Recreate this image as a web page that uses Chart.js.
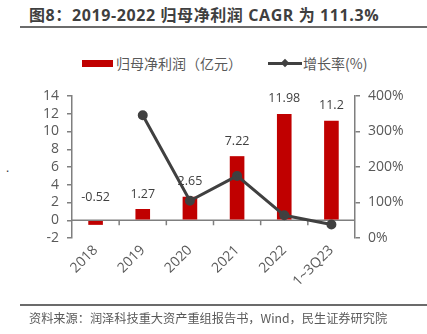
<!DOCTYPE html>
<html>
<head>
<meta charset="utf-8">
<script src="https://cdn.jsdelivr.net/npm/chart.js@4/dist/chart.umd.min.js"></script>
<style>
  html, body { margin: 0; padding: 0; background: #fff; }
  body { width: 427px; height: 334px; position: relative; overflow: hidden; font-family: "Open Sans", "Noto Sans CJK SC", sans-serif; }
  .title { position: absolute; left: 29px; top: 4px; font-size: 16px; letter-spacing: 0.6px; font-weight: bold; color: #3f3f3f; line-height: 22px; white-space: nowrap; font-family: "Open Sans", "Noto Sans CJK SC", sans-serif; }
  .rule { position: absolute; left: 20px; width: 407px; height: 2px; background: #6b6b6b; }
  .legend { position: absolute; top: 53px; left: 0; height: 20px; font-size: 14px; color: #595959; font-family: "Noto Sans CJK SC", sans-serif; }
  .legend span { position: absolute; top: 0; line-height: 20px; white-space: nowrap; }
  .box { position: absolute; left: 82px; top: 7px; width: 31px; height: 7px; background: #C00000; }
  .lline { position: absolute; left: 268px; top: 9px; width: 34px; height: 3px; background: #404040; }
  .ldot { position: absolute; left: 282px; top: 7px; width: 6px; height: 6px; background: #404040; transform: rotate(45deg); }
  .source { position: absolute; left: 29px; top: 309px; font-size: 12.2px; color: #595959; white-space: nowrap; font-family: "Noto Sans CJK SC", sans-serif; }
  .dot { position: absolute; left: 6px; top: 159px; font-size: 12px; color: #333; }
  #wrap { position: absolute; left: 0; top: 70px; width: 427px; height: 235px; }
</style>
</head>
<body>
<div class="title">图8：2019-2022 归母净利润 CAGR 为 111.3%</div>
<div class="rule" style="top:26px"></div>
<div class="legend">
  <div class="box"></div>
  <span style="left:116px">归母净利润（亿元）</span>
  <div class="lline"></div>
  <div class="ldot"></div>
  <span style="left:303px">增长率(%)</span>
</div>
<div class="dot">.</div>
<div id="wrap"><canvas id="chart"></canvas></div>
<div class="rule" style="top:304px"></div>
<div class="source">资料来源：润泽科技重大资产重组报告书，Wind，民生证券研究院</div>

<script>
const years = ['2018', '2019', '2020', '2021', '2022', '1~3Q23']
const profit = [-0.52, 1.27, 2.65, 7.22, 11.98, 11.2]
const profitLabels = ['-0.52', '1.27', '2.65', '7.22', '11.98', '11.2']
const growth = [null, 346, 105, 175, 64, 38]

const axisColor = '#7f7f7f'
const tickColor = '#595959'

// zero line + little tick marks between categories, like the original
const zeroLine = {
  id: 'zeroLine',
  beforeDatasetsDraw(chart) {
    const { ctx, chartArea, scales } = chart
    const y0 = scales.y.getPixelForValue(0)
    const x = scales.x
    ctx.save()
    ctx.strokeStyle = axisColor
    ctx.lineWidth = 1.5
    ctx.beginPath()
    ctx.moveTo(chartArea.left, y0)
    ctx.lineTo(chartArea.right, y0)
    for (let i = 1; i < years.length; i++) {
      const bx = (x.getPixelForValue(i - 1) + x.getPixelForValue(i)) / 2
      ctx.moveTo(bx, y0)
      ctx.lineTo(bx, y0 + 5)
    }
    ctx.stroke()
    ctx.restore()
  }
}

// value labels over the bars, drawn before the line so the line sits on top
const barLabels = {
  id: 'barLabels',
  afterDatasetDraw(chart, args) {
    if (args.index !== 0) return
    const { ctx, scales } = chart
    ctx.save()
    ctx.font = '12.5px "Open Sans"'
    ctx.fillStyle = '#404040'
    ctx.textAlign = 'center'
    ctx.textBaseline = 'middle'
    profit.forEach((v, i) => {
      const x = scales.x.getPixelForValue(i)
      let y = scales.y.getPixelForValue(Math.max(v, 0)) - 15
      if (v < 0) y -= 8
      ctx.fillText(profitLabels[i], x, y)
    })
    ctx.restore()
  }
}

new Chart(document.getElementById('chart'), {
  data: {
    labels: years,
    datasets: [
      {
        type: 'bar',
        label: '归母净利润（亿元）',
        data: profit,
        backgroundColor: '#C00000',
        barPercentage: 0.31,
        categoryPercentage: 1,
        yAxisID: 'y',
        order: 1
      },
      {
        type: 'line',
        label: '增长率(%)',
        data: growth,
        borderColor: '#404040',
        backgroundColor: '#404040',
        borderWidth: 3,
        pointRadius: 3.5,
        pointHoverRadius: 3.5,
        tension: 0,
        yAxisID: 'y1',
        order: 0
      }
    ]
  },
  plugins: [zeroLine, barLabels],
  options: {
    responsive: true,
    maintainAspectRatio: false,
    animation: false,
    layout: { padding: { top: 26, left: 0, right: 0, bottom: 0 } },
    plugins: { legend: { display: false }, tooltip: { enabled: false } },
    scales: {
      x: {
        offset: true,
        grid: { display: false },
        border: { display: false },
        ticks: { color: tickColor, font: { size: 14, family: 'Open Sans' }, minRotation: 45, maxRotation: 45, padding: -4, autoSkip: false },
        afterFit: (s) => { s.height = 67 }
      },
      y: {
        position: 'left',
        min: -2,
        max: 14,
        ticks: { stepSize: 2, autoSkip: false, color: tickColor, font: { size: 14, family: 'Open Sans' }, padding: 8 },
        grid: { drawOnChartArea: false, tickLength: 5, color: axisColor, lineWidth: 1.5 },
        border: { color: axisColor, width: 1.5 },
        afterFit: (s) => { s.width = 72 }
      },
      y1: {
        position: 'right',
        min: 0,
        max: 400,
        ticks: { stepSize: 100, autoSkip: false, color: tickColor, font: { size: 14, family: 'Open Sans' }, padding: 8, callback: (v) => v + '%' },
        grid: { drawOnChartArea: false, tickLength: 5, color: axisColor, lineWidth: 1.5 },
        border: { color: axisColor, width: 1.5 },
        afterFit: (s) => { s.width = 72 }
      }
    }
  }
})
</script>
</body>
</html>
